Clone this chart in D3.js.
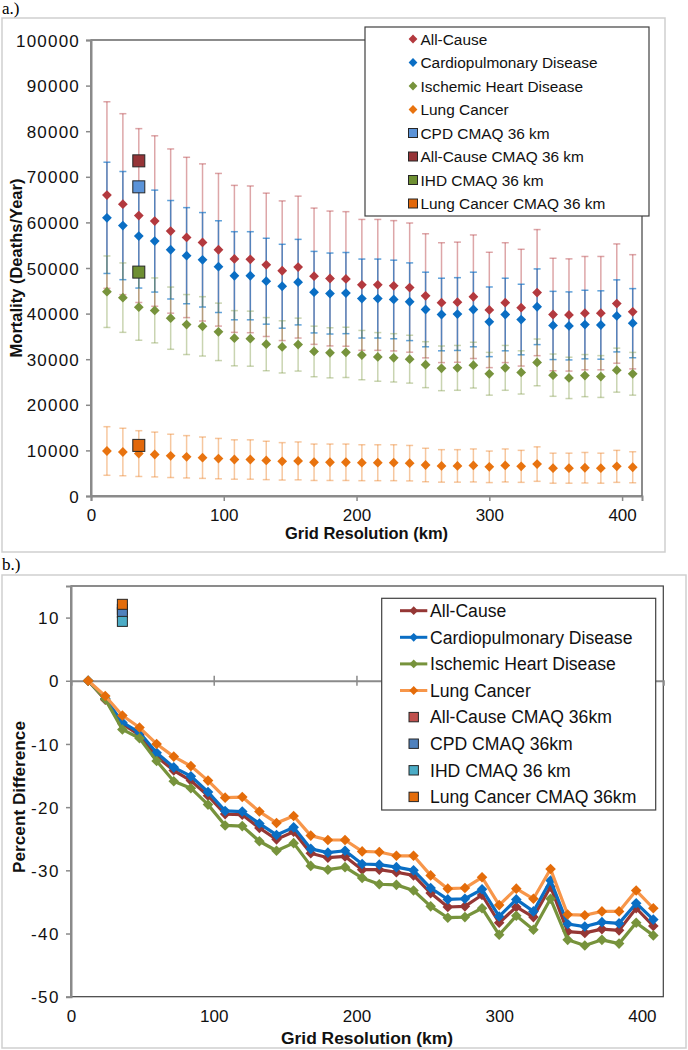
<!DOCTYPE html>
<html>
<head>
<meta charset="utf-8">
<script src="https://cdn.jsdelivr.net/npm/d3@7"></script>
<style>
  body { margin: 0; background: #fff; }
  svg { display: block; font-family: "Liberation Sans", Arial, sans-serif; }
</style>
</head>
<body>
<div id="chart"></div>
<script>
// grid resolution (km) for every point
var gridKm = [12, 24, 36, 48, 60, 72, 84, 96, 108, 120, 132, 144, 156, 168, 180, 192, 204,
              216, 228, 240, 252, 264, 276, 288, 300, 312, 324, 336, 348, 360, 372, 384, 396, 408];

// panel a: mortality (deaths / year)
var mortAllCause = [66000, 64000, 61500, 60300, 58100, 56700, 55600, 54000, 52000, 51900, 50700, 49400, 50200, 48200, 47700, 47600, 46300,
                    46300, 46100, 45700, 43900, 42400, 42500, 43700, 40800, 42400, 41300, 44600, 39800, 39700, 40100, 40100, 42200, 40400];
var mortCpd = [61000, 59300, 57000, 55900, 54000, 52700, 51800, 50300, 48300, 48300, 47100, 46000, 46900, 44700, 44400, 44500, 43300,
               43300, 43100, 42600, 40900, 39800, 39900, 40900, 38200, 39800, 38700, 41500, 37400, 37300, 37600, 37500, 39500, 37900];
var mortIhd = [44800, 43500, 41400, 40700, 39000, 37600, 37200, 36000, 34600, 34500, 33300, 32700, 33200, 31700, 31400, 31500, 30900,
               30500, 30300, 30000, 28800, 28000, 28100, 28700, 26800, 28100, 27100, 29300, 26500, 25900, 26400, 26200, 27600, 26800];
var mortLung = [9870, 9650, 9300, 9100, 8800, 8600, 8400, 8200, 8000, 8000, 7800, 7600, 7700, 7400, 7400, 7400, 7300,
                7300, 7300, 7200, 6800, 6600, 6600, 6700, 6400, 6700, 6500, 7000, 6100, 6100, 6200, 6100, 6500, 6300];
// percentage error bars (fraction of value)
var errAllCause = 0.31, errCpd = 0.20, errIhd = 0.175, errLung = 0.54;
// CMAQ 36 km points
var cmaqKm = 36;
var cmaqMort = { cpd: 67800, allCause: 73500, ihd: 49100, lung: 11100 };

// panel b: percent difference
var pctAllCause = [0, -3.0, -6.8, -8.6, -12.0, -14.2, -15.8, -18.2, -21.1, -21.2, -23.3, -25.1, -23.9, -27.3, -28.0, -27.8, -29.9,
                   -29.9, -30.3, -30.8, -33.6, -35.8, -35.7, -33.9, -38.3, -35.8, -37.4, -32.6, -39.7, -39.9, -39.3, -39.5, -36.0, -38.8];
var pctCpd = [0, -2.8, -6.6, -8.2, -11.4, -13.7, -15.1, -17.6, -20.6, -20.7, -22.6, -24.4, -23.2, -26.6, -27.2, -26.9, -29.0,
              -29.1, -29.5, -30.0, -32.8, -34.6, -34.5, -33.0, -37.3, -34.6, -36.5, -31.6, -38.5, -38.9, -38.2, -38.4, -35.2, -37.8];
var pctIhd = [0, -2.9, -7.7, -9.1, -12.7, -15.9, -17.0, -19.6, -22.9, -23.0, -25.4, -26.9, -25.7, -29.3, -29.9, -29.5, -31.2,
              -32.2, -32.3, -33.2, -35.7, -37.5, -37.4, -36.0, -40.2, -37.2, -39.4, -34.5, -41.0, -41.9, -41.0, -41.6, -38.3, -40.3];
var pctLung = [0, -2.4, -5.5, -7.4, -10.0, -12.0, -13.5, -15.8, -18.5, -18.4, -20.7, -22.5, -21.4, -24.5, -25.2, -25.2, -27.0,
               -27.1, -27.7, -27.7, -30.8, -32.9, -32.8, -31.1, -35.5, -32.9, -34.5, -29.8, -37.0, -37.1, -36.5, -36.5, -33.2, -36.0];
var cmaqPct = { allCause: 11.3, cpd: 10.8, ihd: 9.4, lung: 12.1 };

var ticksMort = [0, 10000, 20000, 30000, 40000, 50000, 60000, 70000, 80000, 90000, 100000];
var ticksPct = [-50, -40, -30, -20, -10, 0, 10];
var ticksKm = [0, 100, 200, 300, 400];

var svg = d3.select("#chart").append("svg")
    .attr("width", 688)
    .attr("height", 1050);

function diamond(r) {
    return "M0," + (-r) + "L" + r + ",0L0," + r + "L" + (-r) + ",0Z";
}
function plain(d) { return String(d); }

// ---------------- panel a ----------------
svg.append("rect").attr("x", 2).attr("y", 18).attr("width", 663).attr("height", 534)
    .attr("fill", "none").attr("stroke", "#cfcfcf").attr("stroke-width", 1.5);
svg.append("text").attr("x", 2).attr("y", 14).text("a.)")
    .style("font-family", "'Liberation Serif', 'Times New Roman', serif").style("font-size", "17px");

var xa = d3.scaleLinear().domain([0, 415]).range([91, 642]);
var ya = d3.scaleLinear().domain([0, 100000]).range([496, 40]);

svg.append("rect").attr("x", 91).attr("y", 40).attr("width", 551).attr("height", 456)
    .attr("fill", "none").attr("stroke", "#404040").attr("stroke-width", 1.2);

var axA = svg.append("g").attr("transform", "translate(0,496)")
    .call(d3.axisBottom(xa).tickValues(ticksKm).tickSize(5).tickPadding(8).tickFormat(plain));
var ayA = svg.append("g").attr("transform", "translate(91,0)")
    .call(d3.axisLeft(ya).tickValues(ticksMort).tickSize(5).tickPadding(6).tickFormat(plain));
[axA, ayA].forEach(function (g) {
    g.select(".domain").attr("stroke", "#8a8a8a").attr("stroke-width", 2);
    g.selectAll(".tick line").attr("stroke", "#8a8a8a").attr("stroke-width", 1.5);
    g.selectAll("text").attr("fill", "#111").style("font-size", "17px")
        .style("font-family", "'Liberation Sans', Arial, sans-serif");
});
ayA.selectAll("text").style("letter-spacing", "1.2px").attr("dy", "0.36em");

var seriesA = [
    { name: "All-Cause", vals: mortAllCause, err: errAllCause, color: "#b3393e", barOp: 0.45 },
    { name: "Cardiopulmonary Disease", vals: mortCpd, err: errCpd, color: "#0a6ec4", barOp: 0.65 },
    { name: "Ischemic Heart Disease", vals: mortIhd, err: errIhd, color: "#77933c", barOp: 0.4 },
    { name: "Lung Cancer", vals: mortLung, err: errLung, color: "#e8730f", barOp: 0.4 }
];

var barsA = svg.append("g");
seriesA.forEach(function (s) {
    var g = barsA.append("g").attr("stroke", s.color).attr("stroke-opacity", s.barOp).attr("stroke-width", 1.5);
    s.vals.forEach(function (v, i) {
        var x = xa(gridKm[i]), y1 = ya(v * (1 + s.err)), y0 = ya(v * (1 - s.err));
        g.append("line").attr("x1", x).attr("x2", x).attr("y1", y1).attr("y2", y0);
        g.append("line").attr("x1", x - 3.5).attr("x2", x + 3.5).attr("y1", y1).attr("y2", y1);
        g.append("line").attr("x1", x - 3.5).attr("x2", x + 3.5).attr("y1", y0).attr("y2", y0);
    });
});

seriesA.forEach(function (s) {
    svg.append("g").selectAll("path").data(s.vals).enter().append("path")
        .attr("d", diamond(4.9))
        .attr("transform", function (d, i) { return "translate(" + xa(gridKm[i]) + "," + ya(d) + ")"; })
        .attr("fill", s.color);
});

var squaresA = [
    { name: "CPD CMAQ 36 km", val: cmaqMort.cpd, color: "#5b93d8" },
    { name: "All-Cause CMAQ 36 km", val: cmaqMort.allCause, color: "#963437" },
    { name: "IHD CMAQ 36 km", val: cmaqMort.ihd, color: "#6e8f32" },
    { name: "Lung Cancer CMAQ 36 km", val: cmaqMort.lung, color: "#e2680b" }
];
squaresA.forEach(function (s) {
    svg.append("rect").attr("x", xa(cmaqKm) - 6).attr("y", ya(s.val) - 6)
        .attr("width", 12).attr("height", 12)
        .attr("fill", s.color).attr("stroke", "#262626").attr("stroke-width", 1);
});

// legend a
var legA = svg.append("g");
legA.append("rect").attr("x", 365).attr("y", 27).attr("width", 284).attr("height", 189)
    .attr("fill", "#fff").attr("stroke", "#404040").attr("stroke-width", 1.2);
var legItemsA = seriesA.map(function (s) { return { name: s.name, color: s.color, shape: "d" }; })
    .concat(squaresA.map(function (s) { return { name: s.name, color: s.color, shape: "s" }; }));
legItemsA.forEach(function (it, i) {
    var cy = 39 + i * 23.5;
    if (it.shape === "d") {
        legA.append("path").attr("d", diamond(4.4)).attr("transform", "translate(413," + cy + ")").attr("fill", it.color);
    } else {
        legA.append("rect").attr("x", 408.5).attr("y", cy - 4.5).attr("width", 9).attr("height", 9)
            .attr("fill", it.color).attr("stroke", "#262626").attr("stroke-width", 1);
    }
    legA.append("text").attr("x", 420.5).attr("y", cy).attr("dy", "0.36em")
        .style("font-size", "15.4px").attr("fill", "#111").text(it.name);
});

svg.append("text").attr("x", 366.5).attr("y", 539).attr("text-anchor", "middle")
    .style("font-size", "16.5px").style("font-weight", "bold").attr("fill", "#111").text("Grid Resolution (km)");
svg.append("text").attr("transform", "translate(22,268) rotate(-90)").attr("text-anchor", "middle")
    .style("font-size", "16.5px").style("font-weight", "bold").attr("fill", "#111").text("Mortality (Deaths/Year)");

// ---------------- panel b ----------------
svg.append("rect").attr("x", 2).attr("y", 575).attr("width", 684).attr("height", 473)
    .attr("fill", "none").attr("stroke", "#cfcfcf").attr("stroke-width", 1.5);
svg.append("text").attr("x", 2).attr("y", 570).text("b.)")
    .style("font-family", "'Liberation Serif', 'Times New Roman', serif").style("font-size", "17px");

var xb = d3.scaleLinear().domain([0, 415]).range([71, 663.3]);
var yb = d3.scaleLinear().domain([-50, 15]).range([996.7, 586]);

svg.append("rect").attr("x", 71).attr("y", 586).attr("width", 592.3).attr("height", 410.7)
    .attr("fill", "none").attr("stroke", "#404040").attr("stroke-width", 1.2);

// x labels at bottom, axis line at zero
var axBLabels = svg.append("g").attr("transform", "translate(0,996.7)")
    .call(d3.axisBottom(xb).tickValues(ticksKm).tickSize(0).tickPadding(13).tickFormat(plain));
axBLabels.select(".domain").remove();
var axBZero = svg.append("g").attr("transform", "translate(0," + yb(0) + ")")
    .call(d3.axisBottom(xb).tickValues(ticksKm.slice(1)).tickSize(5).tickFormat(""));
axBZero.selectAll(".tick line").attr("y1", -5).attr("y2", 5);
var ayB = svg.append("g").attr("transform", "translate(71,0)")
    .call(d3.axisLeft(yb).tickValues(ticksPct).tickSize(5).tickPadding(6).tickFormat(plain));
[axBLabels, axBZero, ayB].forEach(function (g) {
    g.select(".domain").attr("stroke", "#8a8a8a").attr("stroke-width", 2);
    g.selectAll(".tick line").attr("stroke", "#8a8a8a").attr("stroke-width", 1.5);
    g.selectAll("text").attr("fill", "#111").style("font-size", "17px")
        .style("font-family", "'Liberation Sans', Arial, sans-serif");
});
ayB.selectAll("text").attr("dy", "0.36em").style("letter-spacing", "1.5px");

var seriesB = [
    { name: "All-Cause", vals: pctAllCause, line: "#953735", mark: "#953735" },
    { name: "Cardiopulmonary Disease", vals: pctCpd, line: "#0a6ec4", mark: "#0a6ec4" },
    { name: "Ischemic Heart Disease", vals: pctIhd, line: "#77933c", mark: "#77933c" },
    { name: "Lung Cancer", vals: pctLung, line: "#f7964a", mark: "#e46c0a" }
];

var lineB = d3.line()
    .x(function (d, i) { return xb(gridKm[i]); })
    .y(function (d) { return yb(d); });

seriesB.forEach(function (s) {
    svg.append("path").datum(s.vals).attr("d", lineB)
        .attr("fill", "none").attr("stroke", s.line).attr("stroke-width", 3.2).attr("stroke-linejoin", "round");
    svg.append("g").selectAll("path").data(s.vals).enter().append("path")
        .attr("d", diamond(5.3))
        .attr("transform", function (d, i) { return "translate(" + xb(gridKm[i]) + "," + yb(d) + ")"; })
        .attr("fill", s.mark);
});

var squaresB = [
    { name: "All-Cause CMAQ 36km", val: cmaqPct.allCause, color: "#c0504d" },
    { name: "CPD CMAQ 36km", val: cmaqPct.cpd, color: "#4f81bd" },
    { name: "IHD CMAQ 36 km", val: cmaqPct.ihd, color: "#4bacc6" },
    { name: "Lung Cancer CMAQ 36km", val: cmaqPct.lung, color: "#e46c0a" }
];
squaresB.forEach(function (s) {
    svg.append("rect").attr("x", xb(cmaqKm) - 5).attr("y", yb(s.val) - 5)
        .attr("width", 10).attr("height", 10)
        .attr("fill", s.color).attr("stroke", "#262626").attr("stroke-width", 1);
});

// legend b
var legB = svg.append("g");
legB.append("rect").attr("x", 381.7).attr("y", 598.3).attr("width", 274).attr("height", 211.7)
    .attr("fill", "#fff").attr("stroke", "#404040").attr("stroke-width", 1.2);
var legItemsB = seriesB.map(function (s) { return { name: s.name, line: s.line, color: s.mark, shape: "d" }; })
    .concat(squaresB.map(function (s) { return { name: s.name, color: s.color, shape: "s" }; }));
legItemsB.forEach(function (it, i) {
    var cy = 610.7 + i * 26.6;
    if (it.shape === "d") {
        legB.append("line").attr("x1", 400).attr("x2", 427.3).attr("y1", cy).attr("y2", cy)
            .attr("stroke", it.line).attr("stroke-width", 3);
        legB.append("path").attr("d", diamond(4.4)).attr("transform", "translate(413.7," + cy + ")").attr("fill", it.color);
    } else {
        legB.append("rect").attr("x", 409).attr("y", cy - 4.7).attr("width", 9.4).attr("height", 9.4)
            .attr("fill", it.color).attr("stroke", "#262626").attr("stroke-width", 1);
    }
    legB.append("text").attr("x", 430).attr("y", cy).attr("dy", "0.36em")
        .style("font-size", "17.6px").attr("fill", "#111").text(it.name);
});

svg.append("text").attr("x", 367).attr("y", 1044).attr("text-anchor", "middle")
    .style("font-size", "17.4px").style("font-weight", "bold").attr("fill", "#111").text("Grid Resolution (km)");
svg.append("text").attr("transform", "translate(25,797) rotate(-90)").attr("text-anchor", "middle")
    .style("font-size", "17.2px").style("font-weight", "bold").attr("fill", "#111").text("Percent Difference");
</script>
</body>
</html>
